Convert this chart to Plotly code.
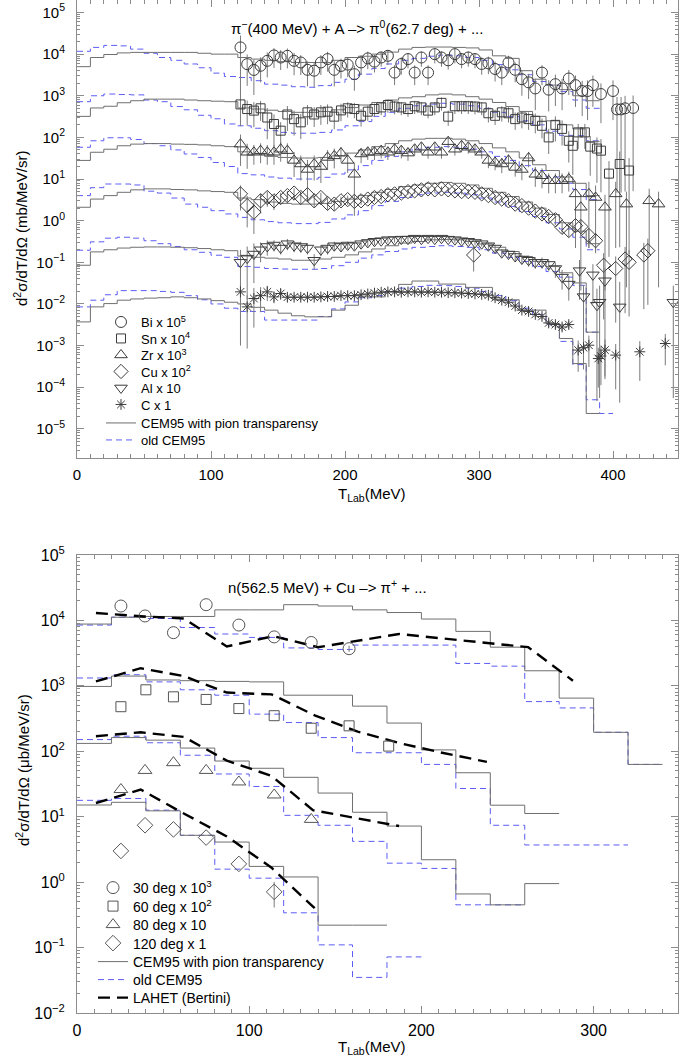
import plotly.graph_objects as go

# =====================  TOP PANEL : pi-(400 MeV) + A -> pi0(62.7 deg)  =====================
TOP_BIN_LOW = [0, 10, 20, 30, 40, 50, 60, 70, 80, 90, 100, 110, 120, 130, 140, 150, 160, 170, 180, 190,
               200, 210, 220, 230, 240, 250, 260, 270, 280, 290, 300, 310, 320, 330, 340, 350, 360, 370, 380, 390]
TOP_BIN_WIDTH = 10

# CEM95 with pion transparency (solid) and old CEM95 (dashed), already scaled
bi_cem = [5000, 8300, 9800, 10700, 11000, 11000, 11000, 11000, 11000, 10500, 10000, 10000, 8300, 7600, 7100, 6600,
          6300, 6300, 6300, 7100, 8300, 8900, 10000, 11200, 13200, 14500, 14800, 14800, 14500, 14100, 12600, 9100,
          7900, 4000, 2500, 1800, 1400, 1000, 760]
bi_old = [11700, 14500, 16200, 15800, 13200, 10500, 8300, 7100, 5800, 4700, 3500, 2900, 2750, 2300, 1900, 1800,
          1650, 1600, 1750, 2100, 2500, 3300, 4500, 5800, 7100, 7900, 8900, 9500, 9100, 8300, 7100, 5600, 4200,
          3200, 2200, 1800, 1260, 790, 500]
sn_cem = [320, 510, 560, 680, 760, 830, 830, 830, 790, 760, 740, 720, 510, 480, 450, 420, 400, 400, 420, 460, 520,
          600, 690, 790, 890, 950, 1050, 1100, 1050, 950, 830, 690, 550, 420, 320, 250, 200, 160, 79]
sn_old = [720, 1000, 1100, 1070, 1050, 790, 720, 550, 460, 340, 280, 210, 190, 166, 145, 132, 126, 126, 132, 151,
          190, 240, 320, 400, 500, 575, 630, 660, 630, 575, 500, 400, 320, 250, 200, 141, 112, 110, 83]
zr_cem = [28, 44, 52, 63, 69, 71, 71, 69, 68, 66, 63, 60, 45, 40, 35, 33, 32, 32, 33, 36, 42, 50, 60, 71, 83, 91,
          95, 95, 91, 83, 71, 56, 45, 32, 22, 16, 11.2, 7.9, 4.0]
zr_old = [58, 83, 98, 98, 89, 71, 63, 50, 40, 33, 25, 20, 13.5, 12.6, 11.2, 10.5, 10, 10, 11, 13.2, 16.6, 21, 28,
          35, 45, 52, 58, 60, 58, 52, 45, 35, 28, 21, 16, 11.2, 7.9, 5.6, 3.2]
cu_cem = [2.1, 3.3, 4.0, 4.8, 5.5, 5.8, 5.8, 5.6, 5.5, 5.2, 5.0, 4.8, 3.5, 3.2, 2.8, 2.6, 2.5, 2.5, 2.6, 2.9, 3.3,
          4.0, 4.8, 5.6, 6.6, 7.2, 7.9, 8.3, 7.9, 7.2, 6.0, 4.8, 3.8, 2.8, 2.0, 1.41, 0.89, 0.56, 0.28]
cu_old = [4.0, 6.2, 7.6, 7.6, 7.2, 5.1, 4.6, 3.5, 2.5, 2.1, 1.74, 1.45, 1.2, 1.05, 0.95, 0.89, 0.85, 0.85, 0.91,
          1.10, 1.38, 1.74, 2.3, 2.9, 3.6, 4.2, 4.6, 4.8, 4.6, 4.2, 3.5, 2.8, 2.2, 1.66, 1.26, 0.89, 0.63, 0.40, 0.20]
al_cem = [0.085, 0.178, 0.20, 0.22, 0.23, 0.234, 0.234, 0.23, 0.224, 0.214, 0.20, 0.19, 0.141, 0.132, 0.126, 0.12,
          0.112, 0.112, 0.12, 0.132, 0.151, 0.178, 0.209, 0.25, 0.29, 0.316, 0.347, 0.355, 0.347, 0.316, 0.275,
          0.23, 0.182, 0.138, 0.105, 0.079, 0.056, 0.032, 0.0021]
al_old = [0.195, 0.31, 0.38, 0.40, 0.38, 0.33, 0.28, 0.24, 0.20, 0.174, 0.148, 0.132, 0.079, 0.076, 0.071, 0.069,
          0.068, 0.068, 0.071, 0.083, 0.10, 0.126, 0.151, 0.182, 0.209, 0.229, 0.24, 0.25, 0.24, 0.229, 0.20,
          0.166, 0.132, 0.105, 0.079, 0.060, 0.044, 0.028, 0.0021]
c_cem = [0.0037, 0.0085, 0.0102, 0.0123, 0.0132, 0.0138, 0.0141, 0.0148, 0.0141, 0.0132, 0.0120, 0.0110, 0.0100,
         0.0083, 0.0071, 0.0060, 0.0052, 0.0049, 0.0049, 0.0071, 0.0093, 0.0148, 0.0148, 0.020, 0.0295, 0.0355,
         0.0355, 0.030, 0.030, 0.025, 0.025, 0.0126, 0.0126, 0.0071, 0.0071, 0.0034, 0.00148, 0.00037, 0.0000234]
c_old = [0.0085, 0.0123, 0.0166, 0.0209, 0.0209, 0.0209, 0.020, 0.019, 0.0158, 0.0126, 0.010, 0.0079, 0.0066,
         0.0066, 0.0041, 0.0041, 0.0041, 0.0041, 0.0050, 0.0076, 0.0112, 0.0141, 0.0158, 0.020, 0.024, 0.0263,
         0.028, 0.0275, 0.0263, 0.024, 0.020, 0.0158, 0.012, 0.0079, 0.0056, 0.0032, 0.00126, 0.00035, 0.00005,
         0.0000234]

# measured points (shared energy grid) + high-energy tails
T_GRID = [122, 127, 132, 137, 142, 147, 152, 157, 162, 167, 172, 177, 182, 187, 192, 197, 202, 207, 212, 217,
          222, 227, 232, 237, 242, 247, 252, 257, 262, 267, 272, 277, 282, 287, 292, 297, 302, 307, 312, 317,
          322, 327, 332, 337, 342, 347, 352, 357, 362, 367]

bi_data = [14500, 5750, 4170, 5250, 6900, 9300, 8300, 9100, 6900, 6300, 4200, 4000, 6300, 7600, 4200, 5200, 5600,
           3300, 6300, 7900, 6600, 8300, 9100, 3600, 5800, 7600, 3600, 8300, 3600, 10000, 8300, 7100, 10000, 7600,
           8300, 7600, 5800, 6000, 4400, 3600, 6300, 4200, 2500, 2100, 1500, 3600, 1400, 1900, 1500, 2600]
bi_rel = [0.93, 0.7, 0.75, 0.6, 0.6, 0.5, 0.5, 0.5, 0.55, 0.5, 0.6, 0.6, 0.5, 0.5, 0.6, 0.5, 0.5, 0.6, 0.5, 0.45,
          0.45, 0.4, 0.4, 0.5, 0.45, 0.4, 0.5, 0.4, 0.5, 0.4, 0.4, 0.4, 0.4, 0.4, 0.4, 0.4, 0.45, 0.45, 0.5, 0.5,
          0.45, 0.5, 0.6, 0.6, 0.7, 0.5, 0.7, 0.7, 0.7, 0.6]
bi_tail_T = [372, 377, 381, 385, 391, 400, 403, 406, 409, 415]
bi_tail = [1800, 1300, 1300, 1800, 1100, 1300, 470, 470, 500, 510]
bi_tail_rel = [0.7, 0.75, 0.8, 0.7, 0.8, 0.8, 0.99, 0.99, 0.99, 0.99]

sn_data = [620, 480, 440, 500, 300, 210, 145, 355, 275, 230, 400, 355, 400, 415, 315, 445, 500, 480, 330, 415,
           480, 525, 600, 550, 525, 480, 560, 525, 440, 525, 675, 315, 560, 560, 560, 550, 525, 380, 330, 400,
           380, 275, 300, 275, 250, 190, 100, 200, 160, 83]
sn_rel = [0.7, 0.6, 0.6, 0.5, 0.7, 0.7, 0.6, 0.6, 0.6, 0.6, 0.5, 0.5, 0.5, 0.5, 0.5, 0.45, 0.4, 0.4, 0.45, 0.4,
          0.35, 0.35, 0.35, 0.35, 0.35, 0.35, 0.35, 0.35, 0.35, 0.35, 0.35, 0.4, 0.35, 0.35, 0.35, 0.35, 0.35,
          0.4, 0.4, 0.4, 0.4, 0.45, 0.45, 0.45, 0.5, 0.5, 0.6, 0.6, 0.6, 0.7]
sn_tail_T = [370, 374, 379, 383, 388, 391, 397, 405, 412]
sn_tail = [63, 132, 132, 60, 54, 48, 13.5, 23, 16]
sn_tail_rel = [0.8, 0.6, 0.6, 0.8, 0.85, 0.9, 0.99, 0.99, 0.99]

zr_data = [69, 44, 44, 48, 44, 44, 52, 48, 28, 23, 17, 23, 20, 33, 36, 42, 28, 13, 40, 44, 44, 48, 44, 52, 48,
           42, 52, 58, 44, 58, 44, 79, 52, 63, 58, 52, 44, 28, 25, 23, 28, 19, 17, 32, 13, 12, 9.1, 9.1, 9.1, 10]
zr_rel = [0.7, 0.6, 0.5, 0.5, 0.5, 0.5, 0.5, 0.5, 0.6, 0.6, 0.7, 0.6, 0.6, 0.5, 0.5, 0.4, 0.5, 0.9, 0.4, 0.35,
          0.35, 0.35, 0.35, 0.35, 0.35, 0.35, 0.3, 0.3, 0.3, 0.3, 0.3, 0.3, 0.3, 0.3, 0.3, 0.3, 0.3, 0.35, 0.35,
          0.4, 0.4, 0.4, 0.45, 0.4, 0.5, 0.5, 0.5, 0.5, 0.5, 0.5]
zr_tail_T = [372, 376, 382, 387, 394, 402, 410, 427, 434]
zr_tail = [4.4, 2.1, 4.4, 3.6, 2.1, 4.4, 2.5, 3.0, 2.5]
zr_tail_rel = [0.95, 0.99, 0.95, 0.95, 0.99, 0.95, 0.99, 0.95, 0.99]

cu_data = [4.4, 2.3, 1.6, 3.0, 3.6, 3.0, 3.6, 4.0, 4.6, 3.6, 4.2, 3.0, 3.6, 2.6, 2.5, 3.0, 3.2, 2.9, 3.0, 3.3,
           3.6, 3.8, 4.2, 4.4, 4.6, 5.0, 5.2, 5.5, 5.8, 5.5, 5.8, 5.5, 5.2, 5.0, 5.0, 4.8, 4.4, 4.0, 3.6, 3.3,
           3.0, 2.5, 2.3, 2.0, 1.7, 1.45, 1.26, 1.05, 0.69, 0.58]
cu_rel = [0.6, 0.7, 0.7, 0.5, 0.4, 0.4, 0.3, 0.3, 0.3, 0.3, 0.3, 0.3, 0.3, 0.3, 0.3, 0.25, 0.25, 0.25, 0.2, 0.2,
          0.2, 0.2, 0.15, 0.15, 0.15, 0.15, 0.15, 0.15, 0.15, 0.15, 0.15, 0.15, 0.15, 0.15, 0.15, 0.15, 0.15,
          0.15, 0.15, 0.15, 0.2, 0.2, 0.2, 0.2, 0.2, 0.25, 0.25, 0.25, 0.3, 0.3]
cu_tail_T = [296, 372, 376, 382, 387, 393, 402, 409, 412, 423, 426]
cu_tail = [0.15, 0.76, 0.72, 0.44, 0.33, 0.085, 0.071, 0.12, 0.10, 0.15, 0.19]
cu_tail_rel = [0.6, 0.4, 0.4, 0.5, 0.5, 0.95, 0.95, 0.95, 0.95, 0.95, 0.95]

al_data = [0.100, 0.126, 0.158, 0.20, 0.24, 0.26, 0.22, 0.28, 0.25, 0.24, 0.22, 0.112, 0.20, 0.22, 0.25, 0.24,
           0.26, 0.25, 0.28, 0.30, 0.32, 0.33, 0.35, 0.35, 0.36, 0.36, 0.38, 0.36, 0.38, 0.36, 0.38, 0.36, 0.35,
           0.33, 0.32, 0.30, 0.28, 0.25, 0.22, 0.17, 0.158, 0.138, 0.12, 0.112, 0.100, 0.100, 0.089, 0.071,
           0.044, 0.030]
al_rel = [0.99, 0.9, 0.8, 0.5, 0.4, 0.3, 0.3, 0.3, 0.3, 0.3, 0.3, 0.4, 0.3, 0.3, 0.25, 0.25, 0.2, 0.2, 0.2, 0.2,
          0.2, 0.15, 0.15, 0.15, 0.15, 0.15, 0.15, 0.15, 0.15, 0.15, 0.15, 0.15, 0.15, 0.15, 0.15, 0.15, 0.15,
          0.2, 0.2, 0.2, 0.2, 0.25, 0.25, 0.3, 0.3, 0.3, 0.3, 0.4, 0.5, 0.6]
al_tail_T = [375, 378, 385, 388, 390, 394, 405, 445]
al_tail = [0.063, 0.015, 0.050, 0.0093, 0.011, 0.036, 0.0085, 0.011]
al_tail_rel = [0.8, 0.9, 0.8, 1.5, 1.5, 1.0, 3.0, 1.5]

c_data = [0.0195, 0.0085, 0.0135, 0.0158, 0.0195, 0.0148, 0.0178, 0.0145, 0.0145, 0.0145, 0.0145, 0.0145,
          0.0148, 0.0151, 0.0151, 0.0158, 0.0158, 0.0158, 0.0166, 0.0174, 0.0182, 0.0191, 0.0195, 0.0195, 0.0191,
          0.0195, 0.0195, 0.0191, 0.0195, 0.0191, 0.0191, 0.0186, 0.0186, 0.0182, 0.0178, 0.0174, 0.0170,
          0.0162, 0.0141, 0.0123, 0.0110, 0.0089, 0.0071, 0.0066, 0.0056, 0.0050, 0.0035, 0.0032, 0.0028, 0.0032]
c_rel = [0.5, 0.9, 0.8, 0.6, 0.4, 0.3, 0.3, 0.2, 0.15, 0.15,
         0.1, 0.1, 0.1, 0.1, 0.1, 0.1, 0.1, 0.1, 0.1, 0.1, 0.1, 0.1, 0.1, 0.1, 0.1, 0.1, 0.1, 0.1, 0.1, 0.1,
         0.1, 0.1, 0.1, 0.1, 0.1, 0.1, 0.1, 0.1, 0.1, 0.1, 0.1,
         0.12, 0.12, 0.15, 0.15, 0.15, 0.2, 0.2, 0.2, 0.2]
c_tail_T = [374, 378, 382, 389, 391, 394, 402, 420, 439]
c_tail = [0.00078, 0.00089, 0.00102, 0.00049, 0.00056, 0.00078, 0.00059, 0.00071, 0.00112]
c_tail_rel = [0.7, 0.7, 0.7, 0.8, 0.8, 0.8, 0.85, 0.8, 0.7]

TOP_LABELS = ["Bi x 10<sup>5</sup>", "Sn x 10<sup>4</sup>", "Zr x 10<sup>3</sup>", "Cu x 10<sup>2</sup>",
              "Al x 10", "C x 1"]

# =====================  BOTTOM PANEL : n(562.5 MeV) + Cu -> pi+  =====================
BOT_BIN_LOW = [0, 20, 40, 60, 80, 100, 120, 140, 160, 180, 200, 220, 240, 260, 280, 300, 320]
BOT_BIN_WIDTH = 20

d30_cem = [8800, 11200, 11500, 11500, 14500, 14500, 17400, 16600, 14500, 13200, 10500, 6800, 3900, 1700, 650,
           195, 63]
d30_old = [8500, 11200, 10700, 7800, 6200, 5500, 3800, 3600, 4200, 4200, 4200, 2200, 2000, 575, 460, 195, 63]
d60_cem = [980, 1410, 1230, 1200, 1170, 1150, 720, 720, 490, 270, 105, 47, 15, 11.2]
d60_old = [1320, 1480, 1150, 870, 720, 370, 275, 162, 95, 95, 63, 27, 7.4, 3.7, 3.7, 3.7]
d80_cem = [132, 162, 148, 112, 71, 55, 40, 23, 11.7, 7.2, 2.2, 0.66, 0.45, 0.95]
d80_old = [151, 170, 135, 87, 45, 29, 10.5, 7.4, 4.2, 1.95, 1.62, 0.45, 0.45]
d120_cem = [15.1, 16.6, 12.3, 5.2, 4.1, 1.74, 1.2, 0.22, 0.22]
d120_old = [17.8, 19, 12.6, 5.2, 1.58, 1.15, 0.34, 0.11, 0.035, 0.072]

lahet30_T = [11, 39, 62, 87, 114, 140, 187, 262, 288]
lahet30 = [13000, 11500, 10700, 4000, 5750, 3900, 6200, 3900, 1200]
lahet60_T = [11, 37, 62, 87, 113, 138, 163, 188, 212, 238]
lahet60 = [1170, 1860, 1410, 790, 740, 355, 200, 132, 95, 69]
lahet80_T = [11, 37, 62, 87, 113, 137, 187]
lahet80 = [170, 195, 166, 72, 42, 12.6, 7.2]
lahet120_T = [11, 37, 62, 87, 113, 138]
lahet120 = [16.2, 26, 11.2, 5.0, 1.66, 0.40]

exp30_T = [25.5, 39.5, 56, 75, 94, 114.5, 136, 158]
exp30 = [16600, 11700, 6500, 17400, 8500, 5600, 4600, 3700]
exp30_err = [0, 0, 0, 0, 0, 0, 0, 400]
exp60_T = [25.5, 40, 56, 75, 94, 114.5, 136, 158, 181]
exp60 = [480, 870, 680, 620, 450, 350, 225, 245, 120]
exp80_T = [25.5, 39.5, 56, 75, 94, 114.5, 136]
exp80 = [26, 51, 67, 51, 34, 21.5, 9.1]
exp120_T = [25.5, 39.5, 56, 75, 94, 114.5]
exp120 = [3.0, 7.4, 6.4, 4.8, 1.9, 0.71]
exp120_err = [0, 0, 0, 0, 0, 0.3]

BOT_LABELS = ["30 deg x 10<sup>3</sup>", "60 deg x 10<sup>2</sup>", "80 deg x 10", "120 deg x 1"]

# =====================  styling  =====================
FONT = "Liberation Sans"
FW, FH = 681, 1059
SOLID = dict(color="#6f6f6f", width=1)
OLD = dict(color="#5c5cf5", width=1, dash="6px,4px")
LAHET = dict(color="black", width=2.4, dash="12px,7px")
MK_COLOR = "#3c3c3c"
ERR_COLOR = "#7a7a7a"


def px_x(p):
    return p / FW


def px_y(p):
    return 1 - p / FH


def hist_xy(low, width, vals):
    xs = list(low[:len(vals)]) + [low[len(vals) - 1] + width]
    ys = list(vals) + [vals[-1]]
    return xs, ys


# legend slots (one legend per entry so the spacing can match)
TOP_LEG_Y = [322, 338.5, 355, 371.5, 388, 404.5, 423, 440]
TOP_LEG_TEXT_X = 141
BOT_LEG_Y = [888, 906.5, 925, 943.5, 962, 980, 998]
BOT_LEG_TEXT_X = 133

fig = go.Figure()
legend_layout = {}


def leg_name(k):
    return "legend" if k == 1 else "legend%d" % k


def add_leg(k, ypix, textx, size):
    legend_layout[leg_name(k)] = dict(
        x=px_x(textx - 40), y=px_y(ypix), xanchor="left", yanchor="middle", bgcolor="rgba(0,0,0,0)",
        tracegroupgap=0, itemwidth=30, font=dict(family=FONT, size=size), borderwidth=0)


# ---- top panel histograms ----
top_models = [(bi_cem, bi_old), (sn_cem, sn_old), (zr_cem, zr_old), (cu_cem, cu_old), (al_cem, al_old),
              (c_cem, c_old)]
for i, (cem, old) in enumerate(top_models):
    x, y = hist_xy(TOP_BIN_LOW, TOP_BIN_WIDTH, old)
    fig.add_trace(go.Scatter(x=x, y=y, mode="lines", line=OLD, line_shape="hv", xaxis="x", yaxis="y",
                             name="old CEM95", legend=leg_name(8), showlegend=(i == 0)))
    x, y = hist_xy(TOP_BIN_LOW, TOP_BIN_WIDTH, cem)
    fig.add_trace(go.Scatter(x=x, y=y, mode="lines", line=SOLID, line_shape="hv", xaxis="x", yaxis="y",
                             name="CEM95 with pion transparensy", legend=leg_name(7), showlegend=(i == 0)))

# ---- top panel data ----
top_data = [
    (bi_data, bi_rel, bi_tail_T, bi_tail, bi_tail_rel, "circle-open", 11),
    (sn_data, sn_rel, sn_tail_T, sn_tail, sn_tail_rel, "square-open", 9),
    (zr_data, zr_rel, zr_tail_T, zr_tail, zr_tail_rel, "triangle-up-open", 11),
    (cu_data, cu_rel, cu_tail_T, cu_tail, cu_tail_rel, "diamond-open", 11),
    (al_data, al_rel, al_tail_T, al_tail, al_tail_rel, "triangle-down-open", 11),
    (c_data, c_rel, c_tail_T, c_tail, c_tail_rel, "asterisk-open", 9),
]
for i, (vals, rel, tT, tv, trel, sym, size) in enumerate(top_data):
    xs = T_GRID + tT
    ys = vals + tv
    rs = rel + trel
    plus = [v * r for v, r in zip(ys, rs)]
    minus = [v * min(r, 0.995) for v, r in zip(ys, rs)]
    fig.add_trace(go.Scatter(
        x=xs, y=ys, mode="markers", xaxis="x", yaxis="y", name=TOP_LABELS[i], legend=leg_name(i + 1),
        marker=dict(symbol=sym, size=size, color=MK_COLOR, line=dict(width=1, color=MK_COLOR)),
        error_y=dict(type="data", symmetric=False, array=plus, arrayminus=minus, color=ERR_COLOR,
                     thickness=1, width=0)))

for k in range(8):
    add_leg(k + 1, TOP_LEG_Y[k], TOP_LEG_TEXT_X, 13)

# ---- bottom panel histograms ----
bot_models = [(d30_cem, d30_old), (d60_cem, d60_old), (d80_cem, d80_old), (d120_cem, d120_old)]
for i, (cem, old) in enumerate(bot_models):
    x, y = hist_xy(BOT_BIN_LOW, BOT_BIN_WIDTH, old)
    fig.add_trace(go.Scatter(x=x, y=y, mode="lines", line=OLD, line_shape="hv", xaxis="x2", yaxis="y2",
                             name="old CEM95", legend=leg_name(14), showlegend=(i == 0)))
    x, y = hist_xy(BOT_BIN_LOW, BOT_BIN_WIDTH, cem)
    fig.add_trace(go.Scatter(x=x, y=y, mode="lines", line=SOLID, line_shape="hv", xaxis="x2", yaxis="y2",
                             name="CEM95 with pion transparency", legend=leg_name(13), showlegend=(i == 0)))

for i, (tx, ty) in enumerate([(lahet30_T, lahet30), (lahet60_T, lahet60), (lahet80_T, lahet80),
                              (lahet120_T, lahet120)]):
    fig.add_trace(go.Scatter(x=tx, y=ty, mode="lines", line=LAHET, xaxis="x2", yaxis="y2",
                             name="LAHET (Bertini)", legend=leg_name(15), showlegend=(i == 0)))

bot_data = [
    (exp30_T, exp30, exp30_err, "circle-open", 12),
    (exp60_T, exp60, None, "square-open", 10),
    (exp80_T, exp80, None, "triangle-up-open", 12),
    (exp120_T, exp120, exp120_err, "diamond-open", 12),
]
for i, (tx, ty, err, sym, size) in enumerate(bot_data):
    eb = dict(visible=False)
    if err is not None:
        eb = dict(type="data", array=err, color=ERR_COLOR, thickness=1, width=0)
    fig.add_trace(go.Scatter(
        x=tx, y=ty, mode="markers", xaxis="x2", yaxis="y2", name=BOT_LABELS[i], legend=leg_name(9 + i),
        marker=dict(symbol=sym, size=size, color="#555555", line=dict(width=1, color="#555555")),
        error_y=eb))

for k in range(7):
    add_leg(9 + k, BOT_LEG_Y[k], BOT_LEG_TEXT_X, 14)

# =====================  axes / layout  =====================
AX = dict(showline=True, linecolor="#8c8c8c", linewidth=1, mirror="ticks", ticks="inside",
          tickcolor="#8c8c8c", showgrid=False, zeroline=False, automargin=False)


def log_ticks(lo, hi):
    vals = [10.0 ** e for e in range(lo, hi + 1)]
    txt = [("10<sup>" + ("\u2212" if e < 0 else "") + str(abs(e)) + "</sup>") for e in range(lo, hi + 1)]
    minor = [m * 10.0 ** e for e in range(lo - 1, hi + 1) for m in range(2, 10)]
    return vals, txt, minor


tv1, tt1, mv1 = log_ticks(-5, 5)
tv2, tt2, mv2 = log_ticks(-2, 5)

fig.update_layout(
    width=FW, height=FH, margin=dict(l=0, r=0, t=0, b=0, autoexpand=False),
    paper_bgcolor="white", plot_bgcolor="white", showlegend=True,
    font=dict(family=FONT, color="black"),
    xaxis=dict(AX, domain=[px_x(77), px_x(678)], range=[0, 448.5], anchor="y",
               tickvals=[0, 100, 200, 300, 400], ticklen=7, tickfont=dict(size=15),
               ticklabelstandoff=3,
               minor=dict(dtick=10, tick0=0, ticks="inside", ticklen=4, tickcolor="#8c8c8c")),
    yaxis=dict(AX, domain=[px_y(458), 1.0], type="log", range=[-5.7, 5.3], anchor="x",
               tickvals=tv1, ticktext=tt1, ticklen=7, tickfont=dict(size=15), ticklabelstandoff=8,
               minor=dict(tickvals=mv1, ticks="inside", ticklen=3, tickcolor="#8c8c8c")),
    xaxis2=dict(AX, domain=[px_x(77), px_x(678)], range=[0, 349], anchor="y2",
                tickvals=[0, 100, 200, 300], ticklen=7, tickfont=dict(size=16), ticklabelstandoff=3,
                minor=dict(dtick=10, tick0=0, ticks="inside", ticklen=4, tickcolor="#8c8c8c")),
    yaxis2=dict(AX, domain=[px_y(1013), px_y(555)], type="log", range=[-2, 5], anchor="x2",
                tickvals=tv2, ticktext=tt2, ticklen=7, tickfont=dict(size=16), ticklabelstandoff=8,
                minor=dict(tickvals=mv2, ticks="inside", ticklen=3, tickcolor="#8c8c8c")),
    **legend_layout,
)

ann = [
    dict(text="\u03c0<sup>\u2212</sup>(400 MeV) + A \u2013> \u03c0<sup>0</sup>(62.7 deg) + ...",
         x=px_x(357), y=px_y(27), font=dict(size=15)),
    dict(text="n(562.5 MeV) + Cu \u2013> \u03c0<sup>+</sup> + ...", x=px_x(327), y=px_y(586),
         font=dict(size=15)),
    dict(text="d<sup>2</sup>\u03c3/dT/d\u03a9 (mb/MeV/sr)", x=px_x(20), y=px_y(228), textangle=-90,
         font=dict(size=15)),
    dict(text="d<sup>2</sup>\u03c3/dT/d\u03a9 (\u03bcb/MeV/sr)", x=px_x(22), y=px_y(770), textangle=-90,
         font=dict(size=15)),
    dict(text="T<sub>Lab</sub>(MeV)", x=px_x(372), y=px_y(495), font=dict(size=15)),
    dict(text="T<sub>Lab</sub>(MeV)", x=px_x(372), y=px_y(1047), font=dict(size=15)),
]
for a in ann:
    fig.add_annotation(xref="paper", yref="paper", showarrow=False, xanchor="center", yanchor="middle",
                       **a)

# remove the browser's default 8px page margin so the figure fills the window exactly; no mode bar
fig.write_html("out.html", config={"displayModeBar": False},
               post_script="document.body.style.margin='0px';")
